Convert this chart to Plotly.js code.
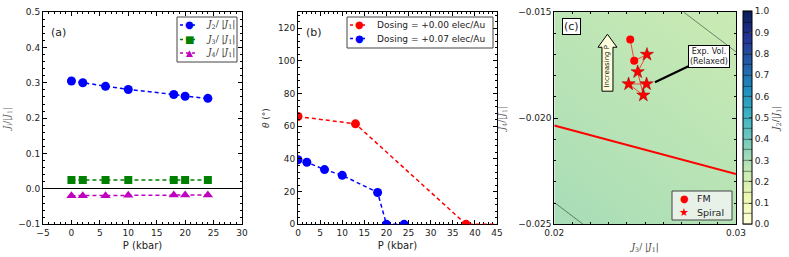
<!DOCTYPE html>
<html><head><meta charset="utf-8">
<script src="https://cdn.plot.ly/plotly-3.0.1.min.js"></script>
<style>html,body{margin:0;padding:0;background:#fff}#chart{width:789px;height:257px}</style>
</head><body><div id="chart"></div>
<script>
// Panel (a)
const pressureA = [0, 2, 6, 10, 18, 20, 24];
const j2j1 = [0.305, 0.300, 0.290, 0.281, 0.267, 0.262, 0.256];
const j3j1 = [0.025, 0.025, 0.025, 0.025, 0.025, 0.025, 0.025];
const j4j1 = [-0.019, -0.019, -0.019, -0.018, -0.017, -0.017, -0.017];
const seriesNamesA = ['<i>J</i><sub>2</sub>/ |<i>J</i><sub>1</sub>|', '<i>J</i><sub>3</sub>/ |<i>J</i><sub>1</sub>|', '<i>J</i><sub>4</sub>/ |<i>J</i><sub>1</sub>|'];
// Panel (b)
const pressureDose0 = [0, 13, 38, 50];
const thetaDose0 = [66, 61.5, 0, 0];
const pressureDose7 = [0, 2, 6, 10, 18, 20, 24];
const thetaDose7 = [39.5, 38, 33.5, 30, 19.5, 0, 0];
const seriesNamesB = ['Dosing = +0.00 elec/Au', 'Dosing = +0.07 elec/Au'];
// Panel (c)
const fmJ3 = [0.02418, 0.02440];
const fmJ4 = [-0.0163, -0.0173];
const spiralJ3 = [0.02510, 0.02459, 0.02490, 0.02409, 0.02508];
const spiralJ4 = [-0.0170, -0.01782, -0.01892, -0.01839, -0.01839];
const seriesNamesC = ['FM', 'Spiral'];
const boundaryJ3 = [0.02, 0.03];
const boundaryJ4 = [-0.020345, -0.022633];
const gridJ3 = [0.02, 0.03];
const gridJ4 = [-0.025, -0.015];
const gridJ2 = [[0.3038, 0.2799], [0.267, 0.2431]];
const cbTicks = [0, 0.1, 0.2, 0.3, 0.4, 0.5, 0.6, 0.7, 0.8, 0.9, 1.0];

const pathJ3 = fmJ3.concat(spiralJ3);
const pathJ4 = fmJ4.concat(spiralJ4);

const F = 'DejaVu Sans, sans-serif';
const FS = 'DejaVu Serif, serif';
const W = 789, H = 257;
const px = v => v / W, py = v => 1 - v / H;
const ylgnbu = [[0,'#ffffd9'],[0.125,'#edf8b1'],[0.25,'#c7e9b4'],[0.375,'#7fcdbb'],[0.5,'#41b6c4'],[0.625,'#1d91c0'],[0.75,'#225ea8'],[0.875,'#253494'],[1,'#081d58']];

const traces = [
  {x: gridJ3, y: gridJ4, z: gridJ2, type: 'contour', xaxis: 'x3', yaxis: 'y3',
   colorscale: ylgnbu, zmin: 0, zmax: 1, autocontour: false,
   contours: {start: 0, end: 1, size: 0.05, coloring: 'heatmap', showlines: true},
   line: {color: 'rgba(0,0,0,0.75)', width: 0.6, smoothing: 0}, hoverinfo: 'skip', showlegend: false,
   colorbar: {x: 0.9417, xanchor: 'left', y: 0.1272, yanchor: 'bottom', len: 0.827, lenmode: 'fraction',
     thickness: 9, thicknessmode: 'pixels', outlinewidth: 1, outlinecolor: '#000',
     tickvals: cbTicks, ticktext: cbTicks.map(v => v.toFixed(1)), ticks: 'inside', ticklen: 3,
     tickfont: {family: F, size: 9, color: '#222'}, xpad: 0, ypad: 0,
     title: {text: '<i>J</i><sub>2</sub>/|<i>J</i><sub>1</sub>|', side: 'right', font: {family: FS, size: 9, color: '#444'}}}},
  {x: pressureA, y: j2j1, name: seriesNamesA[0], mode: 'lines+markers', xaxis: 'x', yaxis: 'y',
   line: {color: '#0000ff', dash: '4px,3px', width: 1.5}, marker: {symbol: 'circle', size: 9, color: '#0000ff'}},
  {x: pressureA, y: j3j1, name: seriesNamesA[1], mode: 'lines+markers', xaxis: 'x', yaxis: 'y',
   line: {color: '#008000', dash: '4px,3px', width: 1.5}, marker: {symbol: 'square', size: 8, color: '#008000'}},
  {x: pressureA, y: j4j1, name: seriesNamesA[2], mode: 'lines+markers', xaxis: 'x', yaxis: 'y',
   line: {color: '#bf00bf', dash: '4px,3px', width: 1.5}, marker: {symbol: 'triangle-up', size: 9, color: '#bf00bf'}},
  {x: pressureDose0, y: thetaDose0, name: seriesNamesB[0], mode: 'lines+markers', xaxis: 'x2', yaxis: 'y2',
   line: {color: '#ff0000', dash: '4px,3px', width: 1.5}, marker: {symbol: 'circle', size: 9, color: '#ff0000'}},
  {x: pressureDose7, y: thetaDose7, name: seriesNamesB[1], mode: 'lines+markers', xaxis: 'x2', yaxis: 'y2',
   line: {color: '#0000ff', dash: '4px,3px', width: 1.5}, marker: {symbol: 'circle', size: 9, color: '#0000ff'}},
  {x: boundaryJ3, y: boundaryJ4, mode: 'lines', xaxis: 'x3', yaxis: 'y3', line: {color: '#ff0000', width: 2}},
  {x: pathJ3, y: pathJ4, mode: 'lines', xaxis: 'x3', yaxis: 'y3', line: {color: 'rgba(255,40,40,0.85)', width: 1}},
  {x: fmJ3, y: fmJ4, name: seriesNamesC[0], mode: 'markers', xaxis: 'x3', yaxis: 'y3',
   marker: {symbol: 'circle', size: 8, color: '#ff0000'}},
  {x: spiralJ3, y: spiralJ4, name: seriesNamesC[1], mode: 'markers', xaxis: 'x3', yaxis: 'y3',
   marker: {symbol: 'star', size: 10, color: '#ff0000', line: {color: '#900', width: 0.5}}}
];

function ax(extra) {
  return Object.assign({showgrid: false, zeroline: false, showline: true, linecolor: '#000', linewidth: 1,
    mirror: 'allticks', ticks: 'inside', ticklen: 4, tickcolor: '#000', tickwidth: 1,
    tickfont: {family: F, size: 9, color: '#222'}}, extra);
}

// Hand-built legends (boxes, dashed keys, glyph markers, labels)
const shapes = [
  {type: 'path', xref: 'x3 domain', yref: 'y3 domain', layer: 'above',
   path: 'M 0.2625 0.627 L 0.2625 0.834 L 0.2405 0.834 L 0.2927 0.895 L 0.345 0.834 L 0.323 0.834 L 0.323 0.627 Z',
   fillcolor: '#ffffdc', line: {color: '#000', width: 1}}
];
const annotations = [];
function legendBox(x0, y0, x1, y1, fill) {
  shapes.push({type: 'rect', xref: 'paper', yref: 'paper', x0: px(x0), x1: px(x1), y0: py(y1), y1: py(y0), layer: 'above',
    fillcolor: fill, line: {color: '#444', width: 1}});
}
function legendEntry(cy, kx0, kx1, color, glyph, gsize, label, tx, font, dashed) {
  if (dashed) shapes.push({type: 'line', xref: 'paper', yref: 'paper', x0: px(kx0), x1: px(kx1), y0: py(cy), y1: py(cy), layer: 'above',
    line: {color: color, width: 1.5, dash: '3px,3px'}});
  annotations.push({text: glyph, xref: 'paper', yref: 'paper', x: px((kx0 + kx1) / 2), y: py(cy), xanchor: 'center', yanchor: 'middle',
    showarrow: false, font: {family: F, size: gsize, color: color}});
  annotations.push({text: label, xref: 'paper', yref: 'paper', x: px(tx), y: py(cy), xanchor: 'left', yanchor: 'middle',
    showarrow: false, font: font});
}
legendBox(177, 17, 237, 62, '#fff');
const fa = {family: FS, size: 9, color: '#333'};
legendEntry(25, 180, 198, '#0000ff', '●', 10, seriesNamesA[0], 204, fa, true);
legendEntry(39.5, 180, 198, '#008000', '■', 10, seriesNamesA[1], 204, fa, true);
legendEntry(53, 180, 198, '#bf00bf', '▲', 9, seriesNamesA[2], 204, fa, true);
legendBox(347, 17, 493, 48, '#fff');
const fb = {family: F, size: 9, color: '#222'};
legendEntry(25, 350, 368, '#ff0000', '●', 10, seriesNamesB[0], 375, fb, true);
legendEntry(38.5, 350, 368, '#0000ff', '●', 10, seriesNamesB[1], 375, fb, true);
legendBox(672, 191, 732, 220, 'rgba(245,245,245,0.8)');
const fc = {family: F, size: 9.5, color: '#222'};
legendEntry(198.5, 677, 691, '#ff0000', '●', 10, seriesNamesC[0], 695, fc, false);
legendEntry(212, 677, 691, '#ff0000', '★', 11, seriesNamesC[1], 695, fc, false);

annotations.push(
  {text: '(a)', xref: 'x domain', yref: 'y domain', x: 0.03, y: 0.945, xanchor: 'left', yanchor: 'top', showarrow: false, font: {family: F, size: 11, color: '#222'}},
  {text: '(b)', xref: 'x2 domain', yref: 'y2 domain', x: 0.03, y: 0.945, xanchor: 'left', yanchor: 'top', showarrow: false, font: {family: F, size: 11, color: '#222'}},
  {text: '(c)', xref: 'x3 domain', yref: 'y3 domain', x: 0.04, y: 0.97, xanchor: 'left', yanchor: 'top', showarrow: false,
   bgcolor: '#fff', bordercolor: '#000', borderwidth: 1, borderpad: 1, font: {family: F, size: 11, color: '#222'}},
  {text: 'Increasing P', xref: 'x3 domain', yref: 'y3 domain', x: 0.2927, y: 0.745, xanchor: 'center', yanchor: 'middle', textangle: -90, showarrow: false,
   font: {family: F, size: 7, color: '#111'}},
  {text: 'Exp. Vol.<br>(Relaxed)', xref: 'x3', yref: 'y3', x: 0.02554, y: -0.01831, ax: 54, ay: -26, axref: 'pixel', ayref: 'pixel',
   showarrow: true, arrowhead: 0, arrowwidth: 2.2, arrowcolor: '#000', standoff: 0,
   bgcolor: '#fff', bordercolor: '#000', borderwidth: 1, borderpad: 1, font: {family: F, size: 8, color: '#222'}}
);

const yd = [0.1272, 0.9533];
const layout = {
  width: W, height: H, margin: {l: 0, r: 0, t: 0, b: 0}, showlegend: false,
  paper_bgcolor: '#fff', plot_bgcolor: '#fff', font: {family: F, color: '#222'},
  xaxis: ax({domain: [0.0545, 0.3067], range: [-5, 30], dtick: 5, anchor: 'y',
    minor: {ticks: 'inside', ticklen: 2, dtick: 1, tickcolor: '#000'},
    title: {text: 'P (kbar)', font: {family: F, size: 10, color: '#222'}, standoff: 4}}),
  yaxis: ax({domain: yd, range: [-0.1, 0.5], dtick: 0.1, tickformat: '.1f', anchor: 'x',
    zeroline: true, zerolinecolor: '#000', zerolinewidth: 1,
    minor: {ticks: 'inside', ticklen: 2, dtick: 0.02, tickcolor: '#000'},
    title: {text: '<i>J</i><sub>i</sub>/|<i>J</i><sub>1</sub>|', font: {family: FS, size: 9, color: '#666'}, standoff: 6}}),
  xaxis2: ax({domain: [0.3777, 0.6299], range: [0, 45], dtick: 5, anchor: 'y2', layer: 'below traces',
    minor: {ticks: 'inside', ticklen: 2, dtick: 1, tickcolor: '#000'},
    title: {text: 'P (kbar)', font: {family: F, size: 10, color: '#222'}, standoff: 4}}),
  yaxis2: ax({domain: yd, range: [0, 130], dtick: 20, anchor: 'x2',
    minor: {ticks: 'inside', ticklen: 2, dtick: 4, tickcolor: '#000'},
    title: {text: '<i>θ</i> (°)', font: {family: F, size: 9, color: '#444'}, standoff: 6}}),
  xaxis3: ax({domain: [0.7025, 0.9328], range: [0.02, 0.03], dtick: 0.01, tickformat: '.2f', anchor: 'y3',
    minor: {ticks: 'inside', ticklen: 2, dtick: 0.001, tickcolor: '#000'},
    title: {text: '<i>J</i><sub>3</sub>/ |<i>J</i><sub>1</sub>|', font: {family: FS, size: 9, color: '#444'}, standoff: 6}}),
  yaxis3: ax({domain: yd, range: [-0.025, -0.015], dtick: 0.005, tickformat: '.3f', anchor: 'x3',
    minor: {ticks: 'inside', ticklen: 2, dtick: 0.001, tickcolor: '#000'},
    title: {text: '<i>J</i><sub>4</sub>/|<i>J</i><sub>1</sub>|', font: {family: FS, size: 9, color: '#666'}, standoff: 10}}),
  shapes: shapes,
  annotations: annotations
};
Plotly.newPlot('chart', traces, layout, {staticPlot: true, displayModeBar: false});
</script></body></html>
